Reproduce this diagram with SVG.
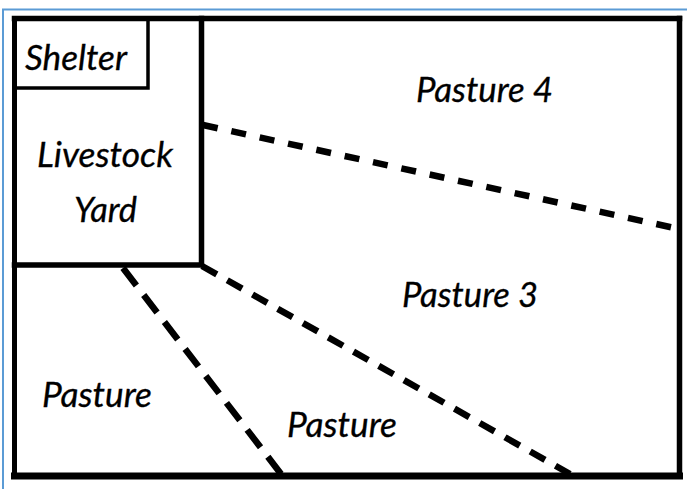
<svg xmlns="http://www.w3.org/2000/svg" width="687" height="489" viewBox="0 0 687 489">
  <style>
    .lbl { font-family: Lato, "Open Sans", "Liberation Sans", sans-serif; font-style: italic; font-size: 34px; fill: #000; stroke: #000; stroke-width: 0.3; }
    .wall { stroke: #000; fill: none; stroke-linecap: square; }
    .fence { stroke: #000; fill: none; stroke-width: 6.5; }
  </style>
  <rect x="0" y="0" width="687" height="489" fill="#ffffff"/>
  <g id="page-border">
    <path d="M3 489 V9.5 H687" stroke="#5b9bd5" stroke-width="2" fill="none"/>
  </g>
  <g id="frame">
    <line class="wall" x1="14.5" y1="18.5" x2="679.5" y2="18.5" stroke-width="5.5"/>
    <line class="wall" x1="14.5" y1="18.5" x2="14.5" y2="476" stroke-width="5"/>
    <line class="wall" x1="679.5" y1="18.5" x2="679.5" y2="476" stroke-width="5.5"/>
    <line class="wall" x1="14.5" y1="476" x2="679.5" y2="476" stroke-width="7"/>
  </g>
  <g id="shelter">
    <path class="wall" d="M14.5 88 H148 V18.5" stroke-width="3.5"/>
    <text class="lbl" x="25" y="70" textLength="102" lengthAdjust="spacingAndGlyphs">Shelter</text>
  </g>
  <g id="livestock-yard">
    <path class="wall" d="M201.5 18.5 V265 H14.5" stroke-width="5.5"/>
    <text class="lbl" x="37" y="167" textLength="136" lengthAdjust="spacingAndGlyphs">Livestock</text>
    <text class="lbl" x="74" y="222" textLength="63" lengthAdjust="spacingAndGlyphs">Yard</text>
  </g>
  <g id="pasture-4">
    <text class="lbl" x="416" y="102" textLength="137" lengthAdjust="spacingAndGlyphs">Pasture 4</text>
  </g>
  <g id="pasture-3">
    <text class="lbl" x="402" y="307" textLength="136" lengthAdjust="spacingAndGlyphs">Pasture 3</text>
  </g>
  <g id="pasture-left">
    <text class="lbl" x="42" y="407" textLength="110" lengthAdjust="spacingAndGlyphs">Pasture</text>
  </g>
  <g id="pasture-middle">
    <text class="lbl" x="287" y="437" textLength="110" lengthAdjust="spacingAndGlyphs">Pasture</text>
  </g>
  <g id="connectors">
    <line class="fence" x1="203" y1="125" x2="679" y2="229" stroke-dasharray="15 14"/>
    <line class="fence" x1="202" y1="266" x2="570" y2="474" stroke-dasharray="17 12"/>
    <line class="fence" x1="123" y1="268" x2="281" y2="474" stroke-dasharray="22 12"/>
  </g>
</svg>
